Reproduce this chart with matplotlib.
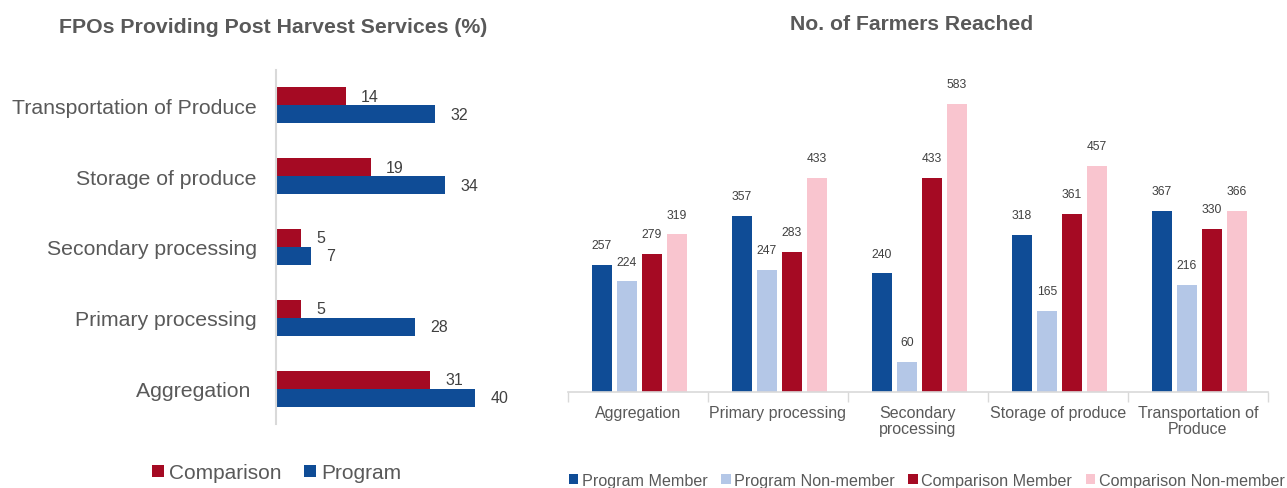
import matplotlib
matplotlib.use("Agg")
import matplotlib.pyplot as plt
import numpy as np

plt.rcParams['font.family'] = ['Liberation Sans', 'DejaVu Sans']

# left chart data
services = ['Aggregation ', 'Primary processing', 'Secondary processing',
            'Storage of produce', 'Transportation of Produce']
comparison_pct = [31, 5, 5, 19, 14]
program_pct = [40, 28, 7, 34, 32]

# right chart data
stages = ['Aggregation', 'Primary processing', 'Secondary\nprocessing',
          'Storage of produce', 'Transportation of\nProduce']
series_names = ['Program Member', 'Program Non-member',
                'Comparison Member', 'Comparison Non-member']
program_member = [257, 357, 240, 318, 367]
program_nonmember = [224, 247, 60, 165, 216]
comparison_member = [279, 283, 433, 361, 330]
comparison_nonmember = [319, 433, 583, 457, 366]

BLUE = '#0f4c96'
RED = '#a50a23'
LIGHT_BLUE = '#b4c7e7'
PINK = '#f9c5cf'
TXT = '#595959'
LAB = '#404040'
SPINE = '#d9d9d9'

fig = plt.figure(figsize=(12.87, 4.89), dpi=100)

# ---- left: horizontal bars ----
ax1 = fig.add_axes([0.2145, 0.1309, 0.174, 0.724])
y = np.arange(len(services))
h = 0.255
b1 = ax1.barh(y + h / 2, comparison_pct, height=h, color=RED, label='Comparison')
b2 = ax1.barh(y - h / 2, program_pct, height=h, color=BLUE, label='Program')
for bars in (b1, b2):
    for r in bars:
        ax1.annotate(f'{r.get_width():g}', (r.get_width(), r.get_y() + r.get_height() / 2),
                     xytext=(11, 0), textcoords='offset points', va='center', ha='left',
                     fontsize=11.5, color=LAB)
ax1.set_xlim(0, 45)
ax1.set_ylim(-0.5, 4.5)
ax1.set_yticks(y)
ax1.set_yticklabels(services, fontsize=15.3, color=TXT)
ax1.tick_params(axis='y', length=0, pad=14)
ax1.set_xticks([])
for s in ('top', 'right', 'bottom'):
    ax1.spines[s].set_visible(False)
ax1.spines['left'].set_color(SPINE)
ax1.spines['left'].set_linewidth(1.5)
fig.text(0.2121, 0.943, 'FPOs Providing Post Harvest Services (%)', ha='center', va='center',
         fontsize=15.3, fontweight='bold', color=TXT)
fig.legend(handles=[b1, b2], loc='center', bbox_to_anchor=(0.215, 0.031), ncol=2, frameon=False,
           fontsize=15, labelcolor=TXT, handlelength=0.55, handleheight=0.55,
           handletextpad=0.25, columnspacing=1.1)

# ---- right: grouped column chart ----
ax2 = fig.add_axes([0.4413, 0.1963, 0.5439, 0.6564])
x = np.arange(len(stages))
w = 0.14
pitch = 0.179
all_series = [program_member, program_nonmember, comparison_member, comparison_nonmember]
colors = [BLUE, LIGHT_BLUE, RED, PINK]
handles = []
for i, (vals, col, name) in enumerate(zip(all_series, colors, series_names)):
    bars = ax2.bar(x + (i - 1.5) * pitch + 0.01, vals, width=w, color=col, label=name)
    handles.append(bars)
    for r in bars:
        ax2.annotate(f'{r.get_height():g}', (r.get_x() + r.get_width() / 2, r.get_height()),
                     xytext=(0, 10), textcoords='offset points', ha='center', va='bottom',
                     fontsize=8.7, color=LAB)
ax2.set_xlim(-0.5, 4.5)
ax2.set_ylim(0, 650)
ax2.set_yticks([])
ax2.set_xticks(x)
ax2.set_xticklabels(stages, fontsize=11.5, color=TXT, linespacing=1.12)
ax2.set_xticks(np.arange(-0.5, 5.0, 1.0), minor=True)
ax2.tick_params(axis='x', which='major', length=0, pad=9)
ax2.tick_params(axis='x', which='minor', length=7, color=SPINE, width=1)
for s in ('top', 'right', 'left'):
    ax2.spines[s].set_visible(False)
ax2.spines['bottom'].set_color(SPINE)
ax2.spines['bottom'].set_linewidth(1.2)
fig.text(0.708, 0.949, 'No. of Farmers Reached', ha='center', va='center',
         fontsize=15.2, fontweight='bold', color=TXT)
fig.legend(handles=handles, loc='center', bbox_to_anchor=(0.72, 0.016), ncol=4, frameon=False,
           fontsize=11.6, labelcolor=TXT, handlelength=0.6, handleheight=0.6,
           handletextpad=0.2, columnspacing=0.85)

fig.savefig('out.png', dpi=100)
